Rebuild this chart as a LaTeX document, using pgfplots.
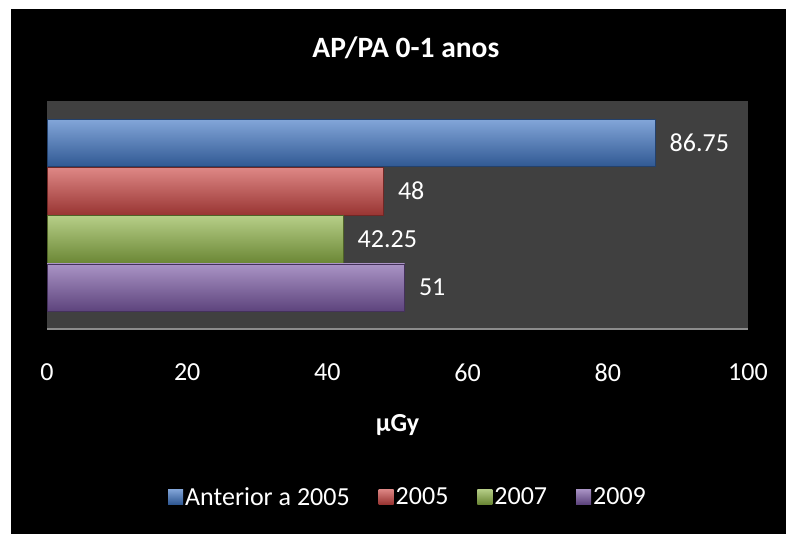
\documentclass[border=0pt]{standalone}
\usepackage{fontspec}
\setmainfont{Carlito}
\usepackage{pgfplots}
\pgfplotsset{compat=1.18}

\definecolor{plotgray}{HTML}{404040}
\definecolor{axisgray}{HTML}{8C8C8C}
\definecolor{cblue}{HTML}{4076C4}
\definecolor{cred}{HTML}{CC4744}
\definecolor{cgreen}{HTML}{8FB447}
\definecolor{cpurple}{HTML}{7C5AA6}

\begin{document}
\begin{tikzpicture}
\fill[white] (0pt,0pt) rectangle (786pt,-533pt);
\fill[black] (11pt,-9pt) rectangle (790pt,-537pt);
\begin{axis}[
    at={(47pt,-329pt)}, anchor=south west,
    scale only axis,
    width=701pt, height=228pt,
    xmin=0, xmax=100,
    ymin=-0.86, ymax=3.87,
    axis background/.style={fill=plotgray},
    axis line style={draw=none},
    tick style={draw=none},
    xtick={0,20,40,60,80,100},
    ytick=\empty,
    /pgf/number format/assume math mode=true,
    xticklabel style={text=white, font=\fontsize{26pt}{31pt}\selectfont, yshift=-31pt},
    xlabel={µGy},
    xlabel style={at={(axis description cs:0.5,-0.421)}, anchor=center,
        text=white, font=\bfseries\fontsize{26pt}{31pt}\selectfont},
    title={AP/PA 0-1 anos},
    title style={at={(axis description cs:0.512,1.205)}, anchor=center,
        text=white, font=\bfseries\fontsize{29.5pt}{35pt}\selectfont},
    bar width=0.985,
    nodes near coords,
    point meta=x,
    every node near coord/.append style={anchor=west, xshift=11pt, text=white,
        font=\fontsize{26pt}{31pt}\selectfont},
    legend columns=4,
    legend style={at={(axis description cs:0.515,-0.737)}, anchor=center,
        draw=none, fill=none, text=white,
        font=\fontsize{26pt}{31pt}\selectfont,
        /tikz/every even column/.append style={column sep=27pt}},
    legend image code/.code={\fill[#1,draw=none] (0pt,-7pt) rectangle (15pt,8pt);},
]
\addplot[xbar, bar shift=0pt, draw=cblue!55!black,
    top color=cblue!65!white, middle color=cblue, bottom color=cblue!75!black]
    coordinates {(86.75,3)};
\addplot[xbar, bar shift=0pt, draw=cred!55!black,
    top color=cred!65!white, middle color=cred, bottom color=cred!75!black]
    coordinates {(48,2)};
\addplot[xbar, bar shift=0pt, draw=cgreen!55!black,
    top color=cgreen!65!white, middle color=cgreen, bottom color=cgreen!75!black]
    coordinates {(42.25,1)};
\addplot[xbar, bar shift=0pt, draw=cpurple!55!black,
    top color=cpurple!65!white, middle color=cpurple, bottom color=cpurple!75!black]
    coordinates {(51,0)};
\legend{Anterior a 2005, 2005, 2007, 2009}
\draw[axisgray, line width=1.5pt] (rel axis cs:0,0) -- (rel axis cs:1,0);
\end{axis}
\pgfresetboundingbox
\path[use as bounding box] (0pt,0pt) rectangle (786pt,-533pt);
\end{tikzpicture}
\end{document}
